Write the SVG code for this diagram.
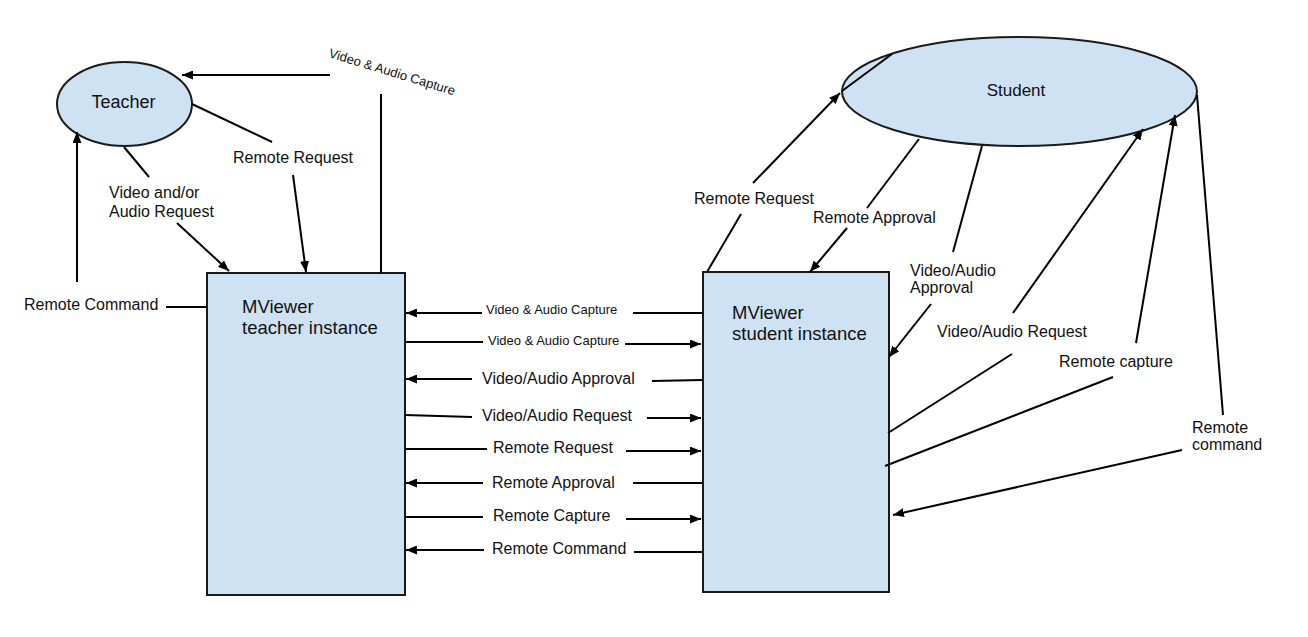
<svg xmlns="http://www.w3.org/2000/svg" width="1308" height="637" viewBox="0 0 1308 637">
<style>
text{font-family:"Liberation Sans",Arial,sans-serif;fill:#111}
.l16{font-size:16px}
.l13{font-size:13px}
.big{font-size:18.5px}
.shape{fill:#cfe2f3;stroke:#1a1a1a;stroke-width:2}
.c{stroke:#000;stroke-width:2;fill:none}
.a{stroke:#000;stroke-width:2;fill:none;marker-end:url(#ah)}
</style>
<defs>
<marker id="ah" markerUnits="userSpaceOnUse" markerWidth="11" markerHeight="9" refX="11" refY="4.5" orient="auto">
<path d="M0,0 L11,4.5 L0,9 z" fill="#000"/>
</marker>
</defs>
<rect width="1308" height="637" fill="#fff"/>
<g id="teacher">
<ellipse class="shape" cx="124.5" cy="104" rx="67.5" ry="42"/>
<text x="123.5" y="108" font-size="18" text-anchor="middle">Teacher</text>
</g>
<g id="student">
<ellipse class="shape" cx="1019.5" cy="91.5" rx="177.5" ry="54.5"/>
<text x="1016" y="96" font-size="17" text-anchor="middle">Student</text>
</g>
<g id="teacher-instance">
<rect class="shape" x="207" y="273" width="198" height="322"/>
<text class="big" x="242" y="313">MViewer</text>
<text class="big" x="242" y="334">teacher instance</text>
</g>
<g id="student-instance">
<rect class="shape" x="703" y="272" width="186" height="320"/>
<text class="big" x="732" y="319">MViewer</text>
<text class="big" x="732" y="340">student instance</text>
</g>
<g id="connectors">
<!-- teacher side -->
<line class="c" x1="381" y1="273" x2="381" y2="94"/>
<line class="a" x1="330" y1="75" x2="182" y2="75"/>
<line class="c" x1="192" y1="104" x2="272" y2="142"/>
<line class="a" x1="293" y1="175" x2="306" y2="272"/>
<line class="c" x1="124" y1="147" x2="149" y2="177"/>
<line class="a" x1="177" y1="223" x2="229" y2="271"/>
<line class="a" x1="77" y1="282" x2="77" y2="132"/>
<line class="c" x1="166" y1="307" x2="206" y2="307"/>
<!-- middle -->
<line class="a" x1="482" y1="313" x2="406" y2="313"/>
<line class="c" x1="633" y1="313" x2="702" y2="313"/>
<line class="c" x1="405" y1="342" x2="483" y2="342"/>
<line class="a" x1="625" y1="344" x2="701" y2="344"/>
<line class="a" x1="472" y1="379" x2="406" y2="379"/>
<line class="c" x1="652" y1="381" x2="702" y2="380"/>
<line class="c" x1="405" y1="415" x2="472" y2="417"/>
<line class="a" x1="647" y1="418" x2="701" y2="418"/>
<line class="c" x1="405" y1="449" x2="487" y2="449"/>
<line class="a" x1="626" y1="451" x2="701" y2="451"/>
<line class="a" x1="483" y1="483" x2="406" y2="483"/>
<line class="c" x1="633" y1="483" x2="702" y2="483"/>
<line class="c" x1="405" y1="517" x2="483" y2="517"/>
<line class="a" x1="626" y1="519" x2="701" y2="519"/>
<line class="a" x1="484" y1="550" x2="406" y2="550"/>
<line class="c" x1="634" y1="552" x2="702" y2="552"/>
<!-- student side -->
<line class="c" x1="707" y1="272" x2="741" y2="214"/>
<line class="a" x1="753" y1="183" x2="840" y2="93"/>
<line class="c" x1="842" y1="91" x2="892" y2="54"/>
<line class="c" x1="919" y1="139" x2="867" y2="208"/>
<line class="a" x1="847" y1="228" x2="810" y2="272"/>
<line class="c" x1="982" y1="146" x2="953" y2="252"/>
<line class="a" x1="931" y1="304" x2="889" y2="357"/>
<line class="c" x1="888" y1="433" x2="1012" y2="354"/>
<line class="a" x1="1013" y1="313" x2="1143" y2="129"/>
<line class="c" x1="885" y1="466" x2="1113" y2="377"/>
<line class="a" x1="1136" y1="343" x2="1175" y2="115"/>
<line class="c" x1="1197" y1="95" x2="1223" y2="415"/>
<line class="a" x1="1182" y1="450" x2="893" y2="515"/>
</g>
<g id="labels">
<text class="l13" x="328" y="57" transform="rotate(17 328 57)">Video &amp; Audio Capture</text>
<text class="l16" x="233" y="163">Remote Request</text>
<text class="l16" x="109" y="198">Video and/or</text>
<text class="l16" x="109" y="217">Audio Request</text>
<text class="l16" x="24" y="310">Remote Command</text>
<text class="l13" x="486" y="314">Video &amp; Audio Capture</text>
<text class="l13" x="488" y="345">Video &amp; Audio Capture</text>
<text class="l16" x="482" y="384">Video/Audio Approval</text>
<text class="l16" x="482" y="421">Video/Audio Request</text>
<text class="l16" x="493" y="453">Remote Request</text>
<text class="l16" x="492" y="488">Remote Approval</text>
<text class="l16" x="493" y="521">Remote Capture</text>
<text class="l16" x="492" y="554">Remote Command</text>
<text class="l16" x="694" y="204">Remote Request</text>
<text class="l16" x="813" y="223">Remote Approval</text>
<text class="l16" x="910" y="276">Video/Audio</text>
<text class="l16" x="910" y="293">Approval</text>
<text class="l16" x="937" y="337">Video/Audio Request</text>
<text class="l16" x="1059" y="367">Remote capture</text>
<text class="l16" x="1192" y="433">Remote</text>
<text class="l16" x="1192" y="450">command</text>
</g>
</svg>
